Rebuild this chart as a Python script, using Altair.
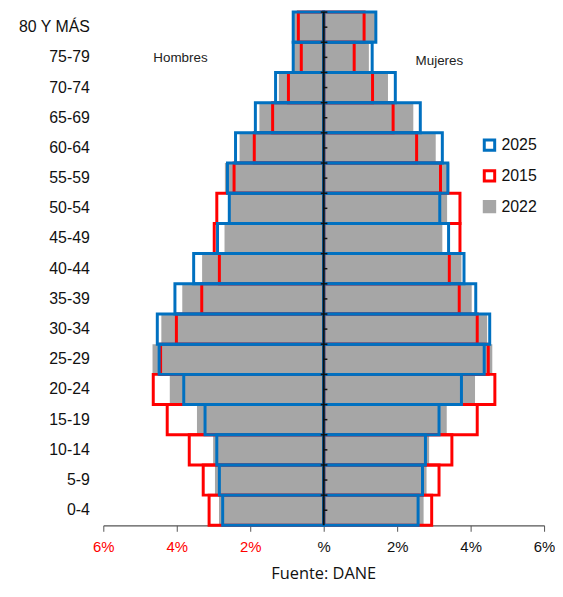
import altair as alt
import pandas as pd

ages = ["80 Y MÁS", "75-79", "70-74", "65-69", "60-64", "55-59", "50-54", "45-49",
        "40-44", "35-39", "30-34", "25-29", "20-24", "15-19", "10-14", "5-9", "0-4"]

men_2022 = [0.82, 0.82, 1.22, 1.75, 2.29, 2.69, 2.58, 2.70, 3.31, 3.85, 4.42, 4.66, 4.19, 3.45, 3.01, 2.96, 2.85]
men_2015 = [0.69, 0.61, 0.96, 1.39, 1.89, 2.44, 2.91, 2.98, 2.84, 3.32, 4.01, 4.44, 4.64, 4.26, 3.66, 3.28, 3.12]
men_2025 = [0.83, 0.83, 1.31, 1.86, 2.40, 2.62, 2.57, 2.89, 3.54, 4.05, 4.53, 4.48, 3.81, 3.23, 2.91, 2.84, 2.75]
women_2022 = [1.40, 1.23, 1.75, 2.44, 3.05, 3.42, 3.36, 3.23, 3.75, 4.03, 4.45, 4.59, 4.12, 3.35, 2.87, 2.80, 2.72]
women_2015 = [1.10, 0.83, 1.33, 1.89, 2.53, 3.18, 3.71, 3.71, 3.42, 3.69, 4.18, 4.48, 4.66, 4.18, 3.49, 3.14, 2.94]
women_2025 = [1.42, 1.32, 1.95, 2.63, 3.23, 3.38, 3.16, 3.40, 3.82, 4.14, 4.52, 4.37, 3.75, 3.14, 2.77, 2.69, 2.57]

series_order = ["2025", "2015", "2022"]
fill_range = ["transparent", "transparent", "#a6a6a6"]
stroke_range = ["#0070c0", "#ff0000", "#a6a6a6"]

rows = []
for serie, men, women in [("2022", men_2022, women_2022),
                          ("2015", men_2015, women_2015),
                          ("2025", men_2025, women_2025)]:
    for a, m, w in zip(ages, men, women):
        rows.append({"edad": a, "sexo": "Hombres", "serie": serie, "valor": -m})
        rows.append({"edad": a, "sexo": "Mujeres", "serie": serie, "valor": w})
df = pd.DataFrame(rows)

FONT = "Liberation Sans"

y_enc = alt.Y("edad:N", sort=ages,
              scale=alt.Scale(domain=ages, paddingInner=0, paddingOuter=0),
              axis=alt.Axis(title=None, ticks=False, domain=False, labelFontSize=16,
                            labelFont=FONT, labelColor="#111", labelPadding=14))
x_scale = alt.Scale(domain=[-6, 6], nice=False)
x_enc = alt.X("valor:Q", stack=None, scale=x_scale,
              axis=alt.Axis(title=None, values=[-6, -4, -2, 0, 2, 4, 6], grid=False,
                            labelExpr="datum.value == 0 ? '%' : abs(datum.value) + '%'",
                            labelColor={"condition": {"test": "datum.value < 0", "value": "#ff0000"},
                                        "value": "#111111"},
                            labelFlush=False,
                            labelFontSize=15, labelFont=FONT, domainColor="#555",
                            tickColor="#555", tickSize=6, labelPadding=8, domainWidth=1.2))

legend = alt.Legend(title=None, orient="none", legendX=381, legendY=126,
                    symbolType="square", symbolSize=110, symbolStrokeWidth=3,
                    labelFontSize=16, labelFont=FONT, labelColor="#111", rowPadding=7,
                    symbolOpacity=1)
fill_enc = alt.Fill("serie:N", scale=alt.Scale(domain=series_order, range=fill_range), legend=legend)
stroke_enc = alt.Stroke("serie:N", scale=alt.Scale(domain=series_order, range=stroke_range), legend=legend)

base = alt.Chart(df)

gray = base.transform_filter("datum.serie == '2022'").mark_bar(strokeWidth=0).encode(
    x=x_enc, x2=alt.datum(0), y=y_enc, fill=fill_enc, stroke=stroke_enc)
red = base.transform_filter("datum.serie == '2015'").mark_bar(strokeWidth=3).encode(
    x=x_enc, x2=alt.datum(0), y=y_enc, fill=fill_enc, stroke=stroke_enc)
blue = base.transform_filter("datum.serie == '2025'").mark_bar(strokeWidth=3).encode(
    x=x_enc, x2=alt.datum(0), y=y_enc, fill=fill_enc, stroke=stroke_enc)

center = alt.Chart(pd.DataFrame({"v": [0]})).mark_rule(color="#111", strokeWidth=2).encode(
    x=alt.X("v:Q", scale=x_scale))

tick_df = pd.DataFrame({"edad": ages})
mid_ticks = alt.Chart(tick_df).mark_rule(color="#111", strokeWidth=1.5).encode(
    y=alt.Y("edad:N", sort=ages), x=alt.datum(0), x2=alt.datum(0.1))
edge_ticks = alt.Chart(tick_df).mark_rule(color="#111", strokeWidth=1.5, yOffset=-15.2).encode(
    y=alt.Y("edad:N", sort=ages), x=alt.datum(-0.08), x2=alt.datum(0.1))

labels_df = pd.DataFrame({"txt": ["Hombres", "Mujeres"], "x": [-3.9, 3.15],
                          "edad": ["75-79", "75-79"], "dy": [16, 19]})
labels = alt.Chart(labels_df).mark_text(font=FONT, fontSize=13.5, color="#222").encode(
    x=alt.X("x:Q", scale=x_scale), y=alt.Y("edad:N", sort=ages), text="txt:N",
    yOffset=alt.YOffset("dy:Q", scale=None))

chart = alt.layer(gray, red, blue, center, mid_ticks, edge_ticks, labels).resolve_scale(
    fill="shared", stroke="shared"
).properties(
    width=444, height=517,
    padding={"left": 9, "top": 0, "right": 0, "bottom": 0},
    title=alt.TitleParams("Fuente: DANE", orient="bottom", anchor="middle", frame="group",
                          font="Open Sans", fontSize=16.5, fontWeight="normal", color="#111",
                          offset=12)
).configure_view(stroke=None)

chart.save("out.html", embed_options={"renderer": "svg", "actions": False})
